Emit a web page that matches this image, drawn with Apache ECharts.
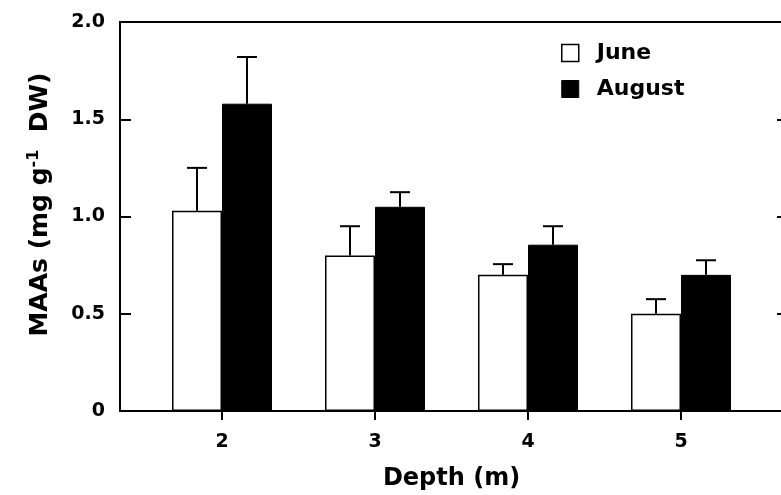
<!DOCTYPE html>
<html>
<head>
<meta charset="utf-8">
<script src="https://cdn.jsdelivr.net/npm/echarts@6/dist/echarts.min.js"></script>
<style>html,body{margin:0;padding:0;background:#fff}#c{width:781px;height:495px}</style>
</head>
<body>
<div id="c"></div>
<script>
var depths = [2, 3, 4, 5];
var june = [1.03, 0.80, 0.70, 0.50];
var juneErr = [0.22, 0.15, 0.055, 0.075];
var august = [1.58, 1.05, 0.855, 0.70];
var augustErr = [0.24, 0.075, 0.095, 0.075];
var yTicks = [0, 0.5, 1.0, 1.5, 2.0];

var FONT = '"DejaVu Sans", Arial, Helvetica, sans-serif';
var chart = echarts.init(document.getElementById('c'), null, {renderer: 'canvas'});

function errSeries(vals, errs, shift) {
  return {
    type: 'custom',
    xAxisIndex: 0, yAxisIndex: 0,
    silent: true,
    z: 1,
    data: depths.map(function (d, i) { return [d, vals[i], errs[i]]; }),
    renderItem: function (params, api) {
      var x = api.value(0), v = api.value(1), e = api.value(2);
      var p0 = api.coord([x, v]);
      var p1 = api.coord([x, v + e]);
      var cx = p0[0] + shift;
      return {
        type: 'group',
        children: [
          {type: 'line', shape: {x1: cx, y1: p0[1], x2: cx, y2: p1[1]}, style: {stroke: '#000', lineWidth: 2}},
          {type: 'line', shape: {x1: cx - 10, y1: p1[1], x2: cx + 10, y2: p1[1]}, style: {stroke: '#000', lineWidth: 2}}
        ]
      };
    }
  };
}

var option = {
  animation: false,
  backgroundColor: '#fff',
  grid: {left: 120, width: 663, top: 22, bottom: 84, containLabel: false, outerBoundsMode: 'none',
    show: true, borderColor: '#000', borderWidth: 2, backgroundColor: 'transparent'},
  legend: {
    orient: 'vertical',
    left: 556, top: 37,
    itemWidth: 17, itemHeight: 17, itemGap: 14,
    textStyle: {fontFamily: FONT, fontWeight: 'bold', fontSize: 22, color: '#000', padding: [0, 0, 0, 13]},
    data: [
      {name: 'June', icon: 'rect', itemStyle: {color: '#fff', borderColor: '#000', borderWidth: 1.5}},
      {name: 'August', icon: 'rect', itemStyle: {color: '#000', borderColor: '#000', borderWidth: 1}}
    ]
  },
  xAxis: {
    type: 'value',
    min: 4 / 3, max: 17 / 3,
    name: 'Depth (m)',
    nameLocation: 'middle',
    nameGap: 56,
    nameTextStyle: {fontFamily: FONT, fontWeight: 'bold', fontSize: 24, color: '#000'},
    splitLine: {show: false},
    axisLine: {show: true, lineStyle: {color: '#000', width: 2}},
    axisTick: {show: true, inside: false, length: 9, customValues: depths, lineStyle: {color: '#000', width: 2}},
    axisLabel: {customValues: depths, margin: 22, fontFamily: FONT, fontWeight: 'bold', fontSize: 19, color: '#000'}
  },
  yAxis: [{
    type: 'value',
    min: 0, max: 2, interval: 0.5,
    position: 'left',
    name: 'MAAs (mg g{sup|-1}  DW)',
    nameLocation: 'middle',
    nameGap: 66,
    nameRotate: 90,
    nameTextStyle: {fontFamily: FONT, fontWeight: 'bold', fontSize: 25, color: '#000', padding: [0, 0, 0, 24],
      rich: {sup: {fontFamily: FONT, fontWeight: 'bold', fontSize: 16, color: '#000', verticalAlign: 'top', padding: [0, 0, 12, 0]}}},
    splitLine: {show: false},
    axisLine: {show: true, lineStyle: {color: '#000', width: 2}},
    axisTick: {show: true, inside: true, length: 11, lineStyle: {color: '#000', width: 2}},
    axisLabel: {margin: 15, fontFamily: FONT, fontWeight: 'bold', fontSize: 19, color: '#000',
      formatter: function (v) { return v === 0 ? '0' : v.toFixed(1); }}
  }, {
    type: 'value',
    min: 0, max: 2, interval: 0.5,
    position: 'right',
    splitLine: {show: false},
    axisLine: {show: true, lineStyle: {color: '#000', width: 2}},
    axisTick: {show: true, inside: true, length: 6, lineStyle: {color: '#000', width: 2}},
    axisLabel: {show: false}
  }],
  series: [
    {
      name: 'June', type: 'bar', barWidth: 50, barGap: '0%',
      data: depths.map(function (d, i) { return [d, june[i]]; }),
      itemStyle: {color: '#fff', borderColor: '#000', borderWidth: 1.5},
      z: 2
    },
    {
      name: 'August', type: 'bar', barWidth: 50, barGap: '0%',
      data: depths.map(function (d, i) { return [d, august[i]]; }),
      itemStyle: {color: '#000', borderColor: '#000', borderWidth: 1},
      z: 2
    },
    errSeries(june, juneErr, -25),
    errSeries(august, augustErr, 25)
  ]
};
chart.setOption(option);
</script>
</body>
</html>
